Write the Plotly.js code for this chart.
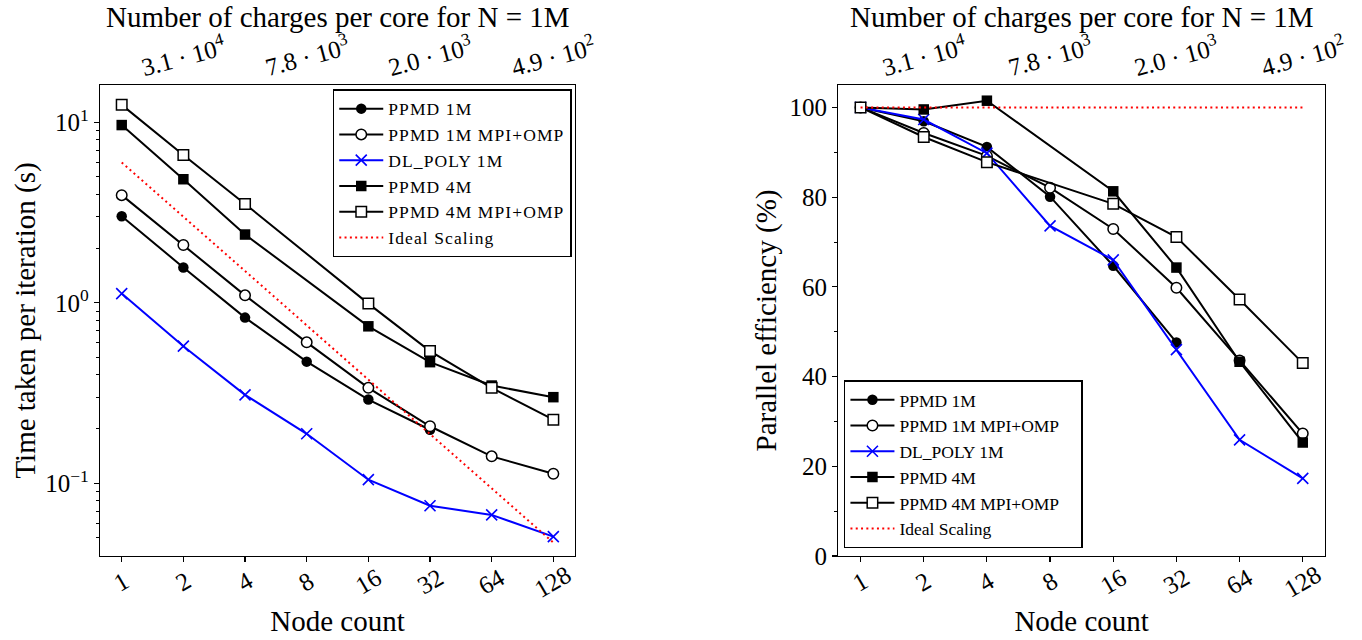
<!DOCTYPE html>
<html><head><meta charset="utf-8">
<script src="https://cdn.plot.ly/plotly-3.0.1.min.js"></script>
<style>html,body{margin:0;padding:0;background:#fff}#chart{width:1362px;height:640px}
.legendtext{letter-spacing:1.1px}</style>
</head><body><div id="chart"></div>
<script>
// ---- data ----
const nodes = [1, 2, 4, 8, 16, 32, 64, 128];
const nodeLabels = ['1', '2', '4', '8', '16', '32', '64', '128'];
const topTickNodes = [2, 8, 32, 128];
const topTickLabels = ['3.1 · 10<sup>4</sup>', '7.8 · 10<sup>3</sup>', '2.0 · 10<sup>3</sup>', '4.9 · 10<sup>2</sup>'];
const topTitle = 'Number of charges per core for N = 1M';
const seriesNames = ['PPMD 1M', 'PPMD 1M MPI+OMP', 'DL_POLY 1M', 'PPMD 4M', 'PPMD 4M MPI+OMP', 'Ideal Scaling'];

// time per iteration (s)
const timePPMD1M     = [3.02, 1.57, 0.828, 0.472, 0.291, 0.198, null, null];
const timePPMD1MOMP  = [3.95, 2.09, 1.10, 0.604, 0.338, 0.207, 0.141, 0.113];
const timeDLPOLY1M   = [1.125, 0.575, 0.309, 0.188, 0.1047, 0.0751, 0.0668, 0.0506];
const timePPMD4M     = [9.66, 4.84, 2.39, null, 0.741, 0.469, 0.348, 0.300];
const timePPMD4MOMP  = [12.5, 6.6, 3.53, null, 0.99, 0.54, 0.338, 0.225];
const timeIdeal      = [6.0, 3.0, 1.5, 0.75, 0.375, 0.1875, 0.09375, 0.046875];

// parallel efficiency (%)
const effPPMD1M      = [100, 96.9, 91.2, 80.1, 64.7, 47.6, null, null];
const effPPMD1MOMP   = [100, 94.3, 89.2, 82.1, 72.9, 59.8, 43.6, 27.3];
const effDLPOLY1M    = [100, 97.3, 89.8, 73.6, 66.0, 46.0, 25.9, 17.3];
const effPPMD4M      = [100, 99.55, 101.5, null, 81.3, 64.3, 43.3, 25.3];
const effPPMD4MOMP   = [100, 93.4, 87.8, null, 78.5, 71.1, 57.2, 43.0];
const effIdeal       = [100, 100, 100, 100, 100, 100, 100, 100];

// ---- styles ----
const FONT = 'Liberation Serif, Times New Roman, serif';
const styles = [
  {marker: {symbol: 'circle', size: 10.5, color: 'black'}, line: {color: 'black', width: 2}},
  {marker: {symbol: 'circle', size: 10.5, color: 'white', line: {color: 'black', width: 1.5}}, line: {color: 'black', width: 2}},
  {marker: {symbol: 'x-thin', size: 11, color: '#0000ff', line: {color: '#0000ff', width: 1.6}}, line: {color: '#0000ff', width: 2}},
  {marker: {symbol: 'square', size: 10.5, color: 'black'}, line: {color: 'black', width: 2}},
  {marker: {symbol: 'square', size: 10.5, color: 'white', line: {color: 'black', width: 1.5}}, line: {color: 'black', width: 2}},
  {line: {color: '#ff0000', width: 2, dash: '2px,3.3px'}}
];

function build(series, xa, ya, legend) {
  return series.map((ys, i) => {
    const t = {
      type: 'scatter', x: nodes, y: ys, name: seriesNames[i],
      xaxis: xa, yaxis: ya, legend: legend, connectgaps: true,
      mode: i === 5 ? 'lines' : 'lines+markers',
      line: styles[i].line, cliponaxis: false
    };
    if (styles[i].marker) t.marker = styles[i].marker;
    return t;
  });
}

const traces = [].concat(
  build([timePPMD1M, timePPMD1MOMP, timeDLPOLY1M, timePPMD4M, timePPMD4MOMP, timeIdeal], 'x', 'y', 'legend'),
  build([effPPMD1M, effPPMD1MOMP, effDLPOLY1M, effPPMD4M, effPPMD4MOMP, effIdeal], 'x2', 'y2', 'legend2')
);

const xRange = [-0.106, 2.2132];
const axisLine = {showline: true, linecolor: 'black', linewidth: 1.2, showgrid: false, zeroline: false,
  ticks: 'outside', tickcolor: 'black', tickwidth: 1.2, ticklen: 5};
const tickFont = {family: FONT, size: 25, color: 'black'};
const titleFont = {family: FONT, size: 29, color: 'black'};

function bottomAxis(domain, anchor) {
  return Object.assign({}, axisLine, {
    domain: domain, anchor: anchor, type: 'log', range: xRange, mirror: true,
    tickmode: 'array', tickvals: nodes, showticklabels: false,
    title: {text: 'Node count', font: titleFont, standoff: 49}
  });
}
function topAxis(over, anchor) {
  return Object.assign({}, axisLine, {
    overlaying: over, anchor: anchor, side: 'top', type: 'log', range: xRange,
    tickmode: 'array', tickvals: topTickNodes, showticklabels: false, showline: false
  });
}

const annotations = [];
[['x', 0.1939], ['x2', 0.8014]].forEach(([xr, cx]) => {
  nodes.forEach((n, i) => annotations.push({
    xref: xr, yref: 'paper', x: Math.log10(n), y: -0.055, yanchor: 'middle', xanchor: 'center',
    text: nodeLabels[i], textangle: -30, showarrow: false, font: tickFont
  }));
  topTickNodes.forEach((n, i) => annotations.push({
    xref: xr, yref: 'paper', x: Math.log10(n), y: 1.064, yanchor: 'middle', xanchor: 'center',
    text: topTickLabels[i], textangle: -15, showarrow: false, font: tickFont
  }));
  annotations.push({
    xref: 'paper', yref: 'paper', x: cx, y: 1.144, xanchor: 'center', yanchor: 'middle',
    text: topTitle, showarrow: false, font: titleFont
  });
});

const legendBase = {bordercolor: 'black', borderwidth: 1.5, bgcolor: 'white',
  font: {family: FONT, size: 17.5, color: 'black'}, itemwidth: 44, tracegroupgap: 0};

const layout = {
  width: 1362, height: 640,
  margin: {l: 100, r: 37, t: 85, b: 84},
  paper_bgcolor: 'white', plot_bgcolor: 'white',
  font: {family: FONT, color: 'black'},
  showlegend: true,
  xaxis: bottomAxis([0, 0.3878], 'y'),
  xaxis2: bottomAxis([0.6027, 1], 'y2'),
  xaxis3: topAxis('x', 'y'),
  xaxis4: topAxis('x2', 'y2'),
  yaxis: Object.assign({}, axisLine, {
    domain: [0, 1], anchor: 'x', type: 'log', range: [-1.403, 1.207], mirror: true,
    tickmode: 'array', tickvals: [0.1, 1, 10], ticktext: ['10<sup>−1</sup>', '10<sup>0</sup>', '10<sup>1</sup>'],
    tickfont: tickFont,
    minor: {ticks: 'outside', ticklen: 3, tickwidth: 1, tickcolor: 'black',
      tickvals: [0.05, 0.06, 0.07, 0.08, 0.09, 0.2, 0.3, 0.4, 0.5, 0.6, 0.7, 0.8, 0.9, 2, 3, 4, 5, 6, 7, 8, 9]},
    title: {text: 'Time taken per iteration (s)', font: titleFont, standoff: 1}
  }),
  yaxis2: Object.assign({}, axisLine, {
    domain: [0, 1], anchor: 'x2', range: [0, 105], mirror: true,
    tickmode: 'linear', tick0: 0, dtick: 20, tickfont: tickFont,
    minor: {ticks: 'outside', ticklen: 3, tickwidth: 1, tickcolor: 'black', dtick: 10},
    title: {text: 'Parallel efficiency (%)', font: titleFont, standoff: 4}
  }),
  legend: Object.assign({}, legendBase, {x: 0.3851, y: 0.9909, xanchor: 'right', yanchor: 'top'}),
  legend2: Object.assign({}, legendBase, {x: 0.6073, y: 0.0163, xanchor: 'left', yanchor: 'bottom'}),
  annotations: annotations
};

Plotly.newPlot('chart', traces, layout, {staticPlot: true, displayModeBar: false});
</script>
</body></html>
